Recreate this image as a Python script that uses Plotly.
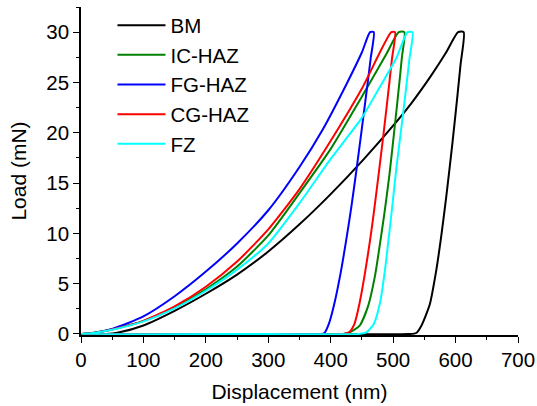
import plotly.graph_objects as go

# Load–displacement (nanoindentation) curves for the five weld zones.
# Each curve: loading branch, hold at peak, unloading branch, then zero-load tail.

series_names = ["BM", "IC-HAZ", "FG-HAZ", "CG-HAZ", "FZ"]
series_colors = ["#000000", "#008000", "#0000FF", "#FF0000", "#00FFFF"]

# --- BM ---
bm_load_h = [0, 40, 60, 100, 150, 200, 250, 300, 350, 400, 452, 500, 530, 560, 585, 604]
bm_load_p = [0, 0, 0.15, 0.85, 2.3, 4.0, 5.9, 8.2, 10.9, 13.9, 17.3, 20.7, 23.0, 25.6, 28.0, 30]
bm_unload_h = [613, 608, 603, 595, 585, 577, 569, 558.5, 545, 537, 525, 300, 0]
bm_unload_p = [30, 26.8, 23.7, 19.0, 13.6, 9.7, 6.3, 2.9, 0.8, 0.1, 0, 0, 0]

# --- IC-HAZ ---
ic_load_h = [0, 20, 50, 100, 150, 200, 250, 300, 350, 400, 450, 488, 509]
ic_load_p = [0, 0.12, 0.47, 1.3, 2.65, 4.45, 6.7, 9.8, 14.0, 18.4, 23.6, 27.7, 30]
ic_unload_h = [518, 514, 510, 502, 494, 486, 479, 471, 460, 446, 430, 420, 300, 0]
ic_unload_p = [30, 27.5, 25.0, 20.3, 15.8, 12.0, 9.0, 5.8, 2.8, 0.8, 0.15, 0, 0, 0]

# --- FG-HAZ ---
fg_load_h = [0, 20, 50, 100, 150, 200, 250, 300, 350, 387, 425, 450, 463]
fg_load_p = [0, 0.1, 0.5, 1.75, 3.75, 6.2, 9.0, 12.3, 16.6, 20.3, 24.8, 28.0, 30]
fg_unload_h = [469, 464, 459.5, 449, 441, 433, 425, 416, 405, 397, 390, 385, 300, 0]
fg_unload_p = [30, 27.4, 25.1, 20.0, 16.2, 12.6, 9.4, 6.1, 2.8, 1.0, 0.1, 0, 0, 0]

# --- CG-HAZ ---
cg_load_h = [0, 20, 50, 100, 150, 200, 250, 300, 350, 400, 450, 497]
cg_load_p = [0, 0.1, 0.45, 1.3, 2.75, 4.7, 7.2, 10.4, 14.4, 19.2, 24.4, 30]
cg_unload_h = [503, 498, 494, 485, 477, 470, 463, 455, 446, 438, 430, 420, 300, 0]
cg_unload_p = [30, 27.3, 25.0, 20.1, 16.0, 12.5, 9.3, 6.1, 3.0, 1.0, 0.2, 0, 0, 0]

# --- FZ ---
fz_load_h = [0, 20, 50, 100, 150, 200, 250, 300, 350, 400, 450, 480, 505, 523]
fz_load_p = [0, 0.1, 0.42, 1.25, 2.55, 4.3, 6.4, 9.0, 13.0, 17.4, 21.5, 24.7, 27.4, 30]
fz_unload_h = [531, 526, 522, 513, 505, 499, 493, 487, 479, 469, 457, 445, 300, 0]
fz_unload_p = [30, 27.3, 25.1, 20.4, 16.4, 12.9, 9.6, 6.4, 3.1, 1.0, 0.15, 0, 0, 0]

x_ticks = [0, 100, 200, 300, 400, 500, 600, 700]
y_ticks = [0, 5, 10, 15, 20, 25, 30]

curves = [
    (bm_load_h + bm_unload_h, bm_load_p + bm_unload_p),
    (ic_load_h + ic_unload_h, ic_load_p + ic_unload_p),
    (fg_load_h + fg_unload_h, fg_load_p + fg_unload_p),
    (cg_load_h + cg_unload_h, cg_load_p + cg_unload_p),
    (fz_load_h + fz_unload_h, fz_load_p + fz_unload_p),
]

FONT = "Arial, 'Liberation Sans', sans-serif"

fig = go.Figure()
for name, color, (h, p) in zip(series_names, series_colors, curves):
    fig.add_trace(go.Scatter(
        x=h, y=p, mode="lines", name=name,
        line=dict(color=color, width=2, shape="spline", smoothing=0.6),
    ))

axis_common = dict(
    showline=True, linecolor="black", linewidth=1.6,
    ticks="outside", ticklen=6, tickwidth=1.3, tickcolor="black",
    showgrid=False, zeroline=False, mirror=False, automargin=False,
    tickfont=dict(family=FONT, size=20.5, color="black"),
    layer="below traces",
)

fig.update_layout(
    width=537, height=406,
    margin=dict(l=81, r=19, t=7, b=71, autoexpand=False),
    paper_bgcolor="white", plot_bgcolor="white",
    font=dict(family=FONT, color="black"),
    xaxis=dict(
        range=[0, 700], tickvals=x_ticks,
        minor=dict(dtick=50, ticks="outside", ticklen=3.5, tickwidth=1.2, tickcolor="black"),
        title=dict(text="Displacement (nm)", font=dict(family=FONT, size=21), standoff=14),
        **axis_common,
    ),
    yaxis=dict(
        range=[-0.1, 32.5], tickvals=y_ticks,
        minor=dict(dtick=2.5, ticks="outside", ticklen=3.5, tickwidth=1.2, tickcolor="black"),
        title=dict(text="Load (mN)", font=dict(family=FONT, size=21), standoff=14),
        **axis_common,
    ),
    legend=dict(
        x=0.072, y=1.005, xanchor="left", yanchor="top",
        font=dict(family=FONT, size=20.5, color="black"),
        bgcolor="rgba(0,0,0,0)", borderwidth=0,
        itemwidth=48, tracegroupgap=0,
    ),
    showlegend=True,
)

fig.write_html("out.html")
